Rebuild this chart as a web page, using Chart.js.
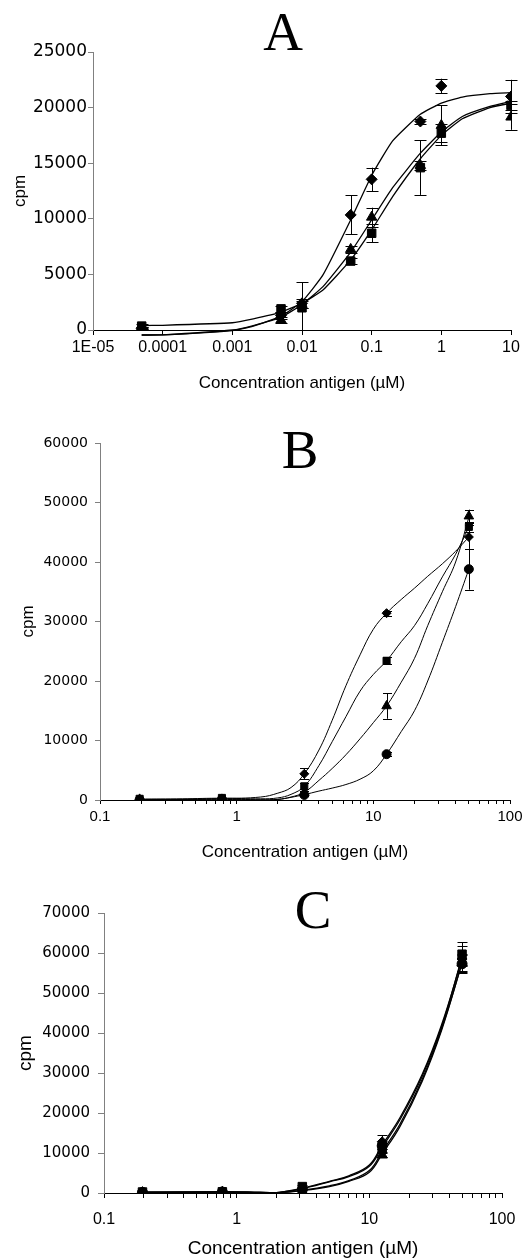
<!DOCTYPE html>
<html lang="en">
<head>
  <meta charset="UTF-8">
  <title>Concentration antigen vs cpm</title>
  <script src="https://cdn.jsdelivr.net/npm/chart.js"></script>
  <style>
    body { margin: 0; background: #fff; }
    #wrap { position: relative; width: 532px; height: 1260px; background: #fff; }
    canvas { position: absolute; left: 0; }
  </style>
</head>
<body>
<div id="wrap">
  <canvas id="chartA" width="532" height="400" style="top:0px"></canvas>
  <canvas id="chartB" width="532" height="470" style="top:400px"></canvas>
  <canvas id="chartC" width="532" height="390" style="top:870px"></canvas>
</div>
<script>
// ---- panel A ----
const xA = [0.00005, 0.005, 0.01, 0.05, 0.1, 0.5, 1, 10];
const aDiamond = [150, 1300, 2400, 10350, 13550, 18750, 21950, 21000];
const aDiamondErr = [100, 300, 400, 1750, 1050, 250, 650, 1500];
const aSquare = [350, 1900, 2000, 6200, 8700, 14600, 17700, 20200];
const aSquareErr = [150, 250, 2300, 300, 800, 2450, 800, 400];
const aTriangle = [150, 900, 2300, 7250, 10150, 14800, 18400, 19150];
const aTriangleErr = [100, 300, 300, 300, 850, 400, 1800, 1150];
const fitXA = [0.00005, 0.0001, 0.001, 0.002, 0.005, 0.01, 0.02, 0.05, 0.1, 0.2, 0.5, 1, 2, 5, 10];
const fitADiamond = [-450, -440, -50, 350, 1250, 2550, 4950, 9900, 13900, 17000, 19400, 20400, 20950, 21250, 21350];
const fitASquare = [400, 420, 650, 1000, 1600, 2400, 3600, 6300, 9000, 12000, 15400, 17500, 19000, 20000, 20400];
const fitATriangle = [-450, -440, 0, 400, 1150, 2300, 3900, 7000, 9900, 12800, 15900, 17800, 19200, 20100, 20550];
const xTicksA = [1e-5, 1e-4, 1e-3, 0.01, 0.1, 1, 10];
const xLabelsA = ['1E-05', '0.0001', '0.001', '0.01', '0.1', '1', '10'];

// ---- panel B ----
const xB = [0.195, 0.78, 3.125, 12.5, 50];
const bDiamond = [50, 250, 4400, 31400, 44200];
const bDiamondErr = [0, 0, 950, 400, 2000];
const bSquare = [200, 350, 2300, 23400, 45900];
const bSquareErr = [0, 0, 500, 600, 900];
const bTriangle = [100, 100, 1200, 15800, 47700];
const bTriangleErr = [0, 0, 300, 2150, 1100];
const bCircle = [50, 150, 850, 7700, 38800];
const bCircleErr = [0, 0, 200, 300, 3450];
const fitXB = [0.195, 0.4, 0.78, 1.5, 2, 2.5, 3.125, 4, 5, 6.3, 8, 10, 12.5, 16, 20, 25, 32, 40, 50];
const fitBDiamond = [50, 100, 250, 500, 1150, 2100, 4400, 8400, 13400, 19200, 24400, 28700, 31400, 33700, 35600, 37600, 39700, 41800, 44200];
const fitBSquare = [150, 200, 300, 200, 350, 950, 2300, 5800, 9800, 14000, 18300, 21100, 23400, 26600, 29300, 33000, 37500, 41300, 45900];
const fitBTriangle = [100, 100, 100, 0, 100, 500, 1300, 3300, 5300, 7600, 10300, 13000, 15800, 19800, 23800, 29300, 35000, 40000, 47500];
const fitBCircle = [50, 50, 150, 50, 100, 450, 900, 1500, 2000, 2600, 3500, 4900, 7700, 11500, 15000, 20000, 26500, 32500, 38800];

// ---- panel C ----
const xC = [0.195, 0.78, 3.125, 12.5, 50];
const cDiamond = [150, 350, 800, 12800, 58500];
const cDiamondErr = [0, 0, 0, 1700, 3200];
const cSquare = [250, 300, 1600, 11000, 59700];
const cSquareErr = [0, 0, 300, 800, 3000];
const cTriangle = [100, 200, 500, 9500, 57500];
const cTriangleErr = [0, 0, 0, 600, 2000];
const cCircle = [150, 250, 900, 11800, 57300];
const cCircleErr = [0, 0, 0, 800, 2400];
const fitXC = [0.195, 0.4, 0.78, 1.5, 2, 3.125, 5, 7, 10, 12.5, 17, 25, 35, 50];
const fitCDiamond = [150, 200, 350, 200, 100, 1200, 2900, 4300, 7000, 12000, 18800, 29600, 42000, 58600];
const fitCSquare = [250, 250, 300, 150, 100, 1100, 2800, 4100, 6700, 11500, 18300, 29100, 41500, 59000];
const fitCTriangle = [100, 150, 200, 100, 50, 600, 1600, 2900, 5200, 9800, 16600, 27900, 40600, 57600];
const fitCCircle = [150, 200, 250, 100, 50, 700, 1800, 3100, 5600, 10400, 17200, 28400, 41000, 57400];

const xTicksBC = [0.1, 1, 10, 100];
const xLabelsBC = ['0.1', '1', '10', '100'];

const SANS = "'Liberation Sans', Arial, sans-serif";
const NUM = "'DejaVu Sans', sans-serif";

function pts(xs, ys) { return xs.map((x, i) => ({ x: x, y: ys[i] })); }

function markers(xs, ys, errs, style, r) {
  return { data: pts(xs, ys), errors: errs, showLine: false, pointStyle: style, pointRadius: r,
    pointBackgroundColor: '#000', pointBorderColor: '#000', pointBorderWidth: 1, order: 0 };
}
function fit(xs, ys, w, t) {
  return { data: pts(xs, ys), showLine: true, pointRadius: 0, borderColor: '#000', borderWidth: w,
    tension: t, clip: 10, order: 1 };
}

// vertical error bars with caps, placed through the chart's own scales
const errorBars = {
  id: 'errorBars',
  afterDatasetsDraw(chart, args, opts) {
    const { ctx } = chart;
    const xs = chart.scales.x, ys = chart.scales.y;
    ctx.save();
    ctx.strokeStyle = '#000';
    ctx.lineWidth = 1;
    chart.data.datasets.forEach(ds => {
      if (!ds.errors) return;
      ds.data.forEach((p, i) => {
        const e = ds.errors[i];
        if (!e) return;
        const px = Math.round(xs.getPixelForValue(p.x)) + 0.5;
        const top = ys.getPixelForValue(p.y + e);
        const bot = ys.getPixelForValue(Math.max(p.y - e, 0));
        const h = opts.cap / 2;
        ctx.beginPath();
        ctx.moveTo(px, top); ctx.lineTo(px, bot);
        ctx.moveTo(px - h, Math.round(top) + 0.5); ctx.lineTo(px + h, Math.round(top) + 0.5);
        ctx.moveTo(px - h, Math.round(bot) + 0.5); ctx.lineTo(px + h, Math.round(bot) + 0.5);
        ctx.stroke();
      });
    });
    ctx.restore();
  }
};

const panelLetter = {
  id: 'panelLetter',
  afterDraw(chart, args, opts) {
    const ctx = chart.ctx;
    ctx.save();
    ctx.fillStyle = '#000';
    ctx.font = "55px 'Liberation Serif', 'Times New Roman', serif";
    ctx.textAlign = 'center';
    ctx.textBaseline = 'alphabetic';
    ctx.fillText(opts.text, opts.x, opts.y);
    ctx.restore();
  }
};

function makePanel(p) {
  return new Chart(document.getElementById(p.id), {
    type: 'scatter',
    data: { datasets: p.datasets },
    plugins: [errorBars, panelLetter],
    options: {
      responsive: false,
      animation: false,
      devicePixelRatio: 1,
      layout: { padding: { top: p.padTop, right: p.padRight, left: 0, bottom: 0 } },
      plugins: {
        legend: { display: false },
        tooltip: { enabled: false },
        errorBars: { cap: p.cap },
        panelLetter: { text: p.letter, x: p.letterX, y: p.letterY }
      },
      scales: {
        x: {
          type: 'logarithmic',
          min: p.xMin, max: p.xMax,
          border: { color: '#000', width: 1 },
          grid: { drawOnChartArea: false, drawTicks: true, tickLength: p.xTickLen, color: '#000' },
          ticks: {
            autoSkip: false, maxRotation: 0, minRotation: 0, padding: p.xPad, color: '#000',
            font: { family: SANS, size: p.xFont },
            callback: v => {
              const k = p.majors.findIndex(m => Math.abs(m - v) / m < 1e-6);
              return k >= 0 ? p.labels[k] : '';
            }
          },
          afterBuildTicks: s => {
            const vals = [];
            p.majors.forEach((m, i) => {
              vals.push(m);
              if (p.minor && i < p.majors.length - 1) {
                for (let d = 2; d <= 9; d++) vals.push(m * d);
              }
            });
            s.ticks = vals.map(v => ({ value: v }));
          },
          afterFit: s => { s.height = p.xH; },
          title: { display: true, text: 'Concentration antigen (µM)', color: '#000',
            font: { family: SANS, size: p.titleFont }, padding: { top: 0, bottom: p.titlePb } }
        },
        y: {
          min: 0, max: p.yMax,
          border: { color: '#808080', width: 1 },
          grid: { drawOnChartArea: false, drawTicks: true, tickLength: p.yTickLen, color: '#808080' },
          ticks: { stepSize: p.yStep, padding: p.yPad, color: '#000',
            font: { family: NUM, size: p.yFont }, callback: v => String(v) },
          afterFit: s => { s.width = p.yW; },
          title: { display: true, text: 'cpm', color: '#000',
            font: { family: SANS, size: p.cpmFont }, padding: { top: p.cpmPt, bottom: 0 } }
        }
      }
    }
  });
}

makePanel({
  id: 'chartA', xMin: 1e-5, xMax: 10, majors: xTicksA, labels: xLabelsA, minor: false,
  yMax: 25000, yStep: 5000, padTop: 52, padRight: 21, yW: 93, xH: 70,
  yTickLen: 5, yPad: 1, yFont: 17, xTickLen: 5, xPad: 3, xFont: 16,
  titleFont: 17, titlePb: 6, cpmFont: 17, cpmPt: 10, cap: 12,
  letter: 'A', letterX: 283, letterY: 50,
  datasets: [
    fit(fitXA, fitADiamond, 1.3, 0.15), fit(fitXA, fitASquare, 1.3, 0.15), fit(fitXA, fitATriangle, 1.3, 0.15),
    markers(xA, aDiamond, aDiamondErr, 'rectRot', 5.5),
    markers(xA, aTriangle, aTriangleErr, 'triangle', 6),
    markers(xA, aSquare, aSquareErr, 'rect', 6)
  ]
});

makePanel({
  id: 'chartB', xMin: 0.1, xMax: 100, majors: xTicksBC, labels: xLabelsBC, minor: true,
  yMax: 60000, yStep: 10000, padTop: 43, padRight: 22, yW: 100, xH: 70,
  yTickLen: 5, yPad: 7, yFont: 14, xTickLen: 4, xPad: 4, xFont: 15,
  titleFont: 17, titlePb: 7, cpmFont: 17, cpmPt: 18, cap: 9,
  letter: 'B', letterX: 300, letterY: 68,
  datasets: [
    fit(fitXB, fitBDiamond, 1, 0.4), fit(fitXB, fitBSquare, 1, 0.4), fit(fitXB, fitBTriangle, 1, 0.4), fit(fitXB, fitBCircle, 1, 0.4),
    markers(xB, bCircle, bCircleErr, 'circle', 4.5),
    markers(xB, bTriangle, bTriangleErr, 'triangle', 5.5),
    markers(xB, bSquare, bSquareErr, 'rect', 5),
    markers(xB, bDiamond, bDiamondErr, 'rectRot', 4.5)
  ]
});

makePanel({
  id: 'chartC', xMin: 0.1, xMax: 100, majors: xTicksBC, labels: xLabelsBC, minor: true,
  yMax: 70000, yStep: 10000, padTop: 43, padRight: 30, yW: 104, xH: 67,
  yTickLen: 6, yPad: 8, yFont: 15, xTickLen: 5, xPad: 12, xFont: 16,
  titleFont: 19, titlePb: 0, cpmFont: 19, cpmPt: 14, cap: 10,
  letter: 'C', letterX: 313, letterY: 58,
  datasets: [
    fit(fitXC, fitCDiamond, 1.3, 0.4), fit(fitXC, fitCSquare, 1.3, 0.4), fit(fitXC, fitCTriangle, 1.3, 0.4), fit(fitXC, fitCCircle, 1.3, 0.4),
    markers(xC, cCircle, cCircleErr, 'circle', 5),
    markers(xC, cTriangle, cTriangleErr, 'triangle', 6),
    markers(xC, cDiamond, cDiamondErr, 'rectRot', 5),
    markers(xC, cSquare, cSquareErr, 'rect', 6)
  ]
});
</script>
</body>
</html>
